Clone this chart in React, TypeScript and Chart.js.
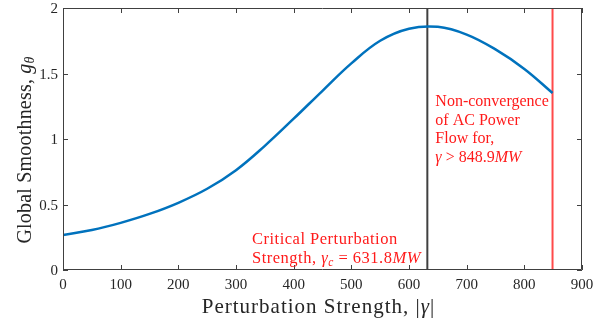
import React, { useEffect, useRef } from "react";
import { Chart, registerables } from "chart.js";

Chart.register(...registerables);

const xValues = [0, 50, 100, 150, 200, 250, 300, 350, 400, 450, 500, 550, 600, 650, 700, 750, 800, 848.9];
const yValues = [0.267, 0.305, 0.36, 0.428, 0.513, 0.62, 0.762, 0.948, 1.155, 1.368, 1.577, 1.75, 1.842, 1.856, 1.797, 1.684, 1.535, 1.351];
const criticalX = 631.8;
const divergeX = 848.9;
const xTicks = [0, 100, 200, 300, 400, 500, 600, 700, 800, 900];
const yTicks = [0, 0.5, 1, 1.5, 2];
const yTickLabels = ["0", "0.5", "1", "1.5", "2"];

const SERIF = "'Liberation Serif', 'DejaVu Serif', serif";

type Part = { t: string; font: string; dy?: number };

function drawParts(
  ctx: CanvasRenderingContext2D,
  parts: Part[],
  x: number,
  y: number,
  align: "left" | "center" | "right",
  color: string,
  spacing = 0
) {
  ctx.save();
  ctx.fillStyle = color;
  ctx.textBaseline = "alphabetic";
  ctx.textAlign = "left";
  (ctx as any).letterSpacing = spacing + "px";
  let total = 0;
  for (const p of parts) {
    ctx.font = p.font;
    total += ctx.measureText(p.t).width;
  }
  let cx = align === "left" ? x : align === "center" ? x - total / 2 : x - total;
  for (const p of parts) {
    ctx.font = p.font;
    ctx.fillText(p.t, cx, y + (p.dy || 0));
    cx += ctx.measureText(p.t).width;
  }
  ctx.restore();
}

const decorPlugin = {
  id: "decor",
  afterDraw(chart: any) {
    const ctx: CanvasRenderingContext2D = chart.ctx;
    const xs = chart.scales.x;
    const ys = chart.scales.y;
    const { left, right, top, bottom } = chart.chartArea;
    ctx.save();
    ctx.strokeStyle = "#404040";
    ctx.lineWidth = 1;
    ctx.beginPath();
    ctx.rect(left + 0.5, top + 0.5, right - left - 1, bottom - top - 1);
    ctx.stroke();
    const tl = 5;
    ctx.beginPath();
    for (const v of xTicks) {
      const px = Math.round(xs.getPixelForValue(v)) + 0.5;
      ctx.moveTo(px, bottom);
      ctx.lineTo(px, bottom - tl);
      ctx.moveTo(px, top);
      ctx.lineTo(px, top + tl);
    }
    for (const v of yTicks) {
      const py = Math.round(ys.getPixelForValue(v)) + 0.5;
      ctx.moveTo(left, py);
      ctx.lineTo(left + tl, py);
      ctx.moveTo(right, py);
      ctx.lineTo(right - tl, py);
    }
    ctx.stroke();
    ctx.restore();

    const tickFont = `15px ${SERIF}`;
    for (const v of xTicks) {
      drawParts(ctx, [{ t: String(v), font: tickFont }], xs.getPixelForValue(v), bottom + 19, "center", "#262626");
    }
    yTicks.forEach((v, i) => {
      drawParts(ctx, [{ t: yTickLabels[i], font: tickFont }], left - 5, ys.getPixelForValue(v) + 5, "right", "#262626");
    });

    // x title
    drawParts(
      ctx,
      [
        { t: "Perturbation Strength, |", font: `21px ${SERIF}` },
        { t: "γ", font: `italic 21px ${SERIF}` },
        { t: "|", font: `21px ${SERIF}` },
      ],
      318.5,
      bottom + 43,
      "center",
      "#262626",
      1
    );

    // y title
    ctx.save();
    ctx.translate(31, 150);
    ctx.rotate(-Math.PI / 2);
    drawParts(
      ctx,
      [
        { t: "Global Smoothness, ", font: `20px ${SERIF}` },
        { t: "g", font: `italic 20px ${SERIF}` },
        { t: "θ", font: `italic 14px ${SERIF}`, dy: 3 },
      ],
      0,
      0,
      "center",
      "#262626",
      0.2
    );
    ctx.restore();

    // annotations
    const red = "#ff1a1a";
    const af = `16px ${SERIF}`;
    const ai = `italic 16px ${SERIF}`;
    const ax = xs.getPixelForValue(criticalX) + 8;
    drawParts(ctx, [{ t: "Non-convergence", font: af }], ax, 106, "left", red);
    drawParts(ctx, [{ t: "of AC Power", font: af }], ax, 124.7, "left", red);
    drawParts(ctx, [{ t: "Flow for,", font: af }], ax, 143.4, "left", red);
    drawParts(
      ctx,
      [
        { t: "γ", font: ai },
        { t: " > 848.9", font: af },
        { t: "MW", font: ai },
      ],
      ax,
      162,
      "left",
      red
    );
    const bf = `16.5px ${SERIF}`;
    const bi = `italic 16.5px ${SERIF}`;
    drawParts(ctx, [{ t: "Critical Perturbation", font: bf }], 252, 244, "left", red, 0.5);
    drawParts(
      ctx,
      [
        { t: "Strength, ", font: bf },
        { t: "γ", font: bi },
        { t: "c", font: `italic 11.5px ${SERIF}`, dy: 3 },
        { t: " = 631.8", font: bf },
        { t: "MW", font: bi },
      ],
      252,
      263,
      "left",
      red,
      0.5
    );
  },
};

export default function App() {
  const ref = useRef<HTMLCanvasElement>(null);
  useEffect(() => {
    if (!ref.current) return;
    const chart = new Chart(ref.current, {
      type: "line",
      data: {
        datasets: [
          {
            data: xValues.map((x, i) => ({ x, y: yValues[i] })),
            borderColor: "#0072BD",
            borderWidth: 2.5,
            pointRadius: 0,
            tension: 0.4,
            fill: false,
          },
          {
            data: [
              { x: criticalX, y: 0 },
              { x: criticalX, y: 2 },
            ],
            borderColor: "#404040",
            borderWidth: 2,
            pointRadius: 0,
          },
          {
            data: [
              { x: divergeX, y: 0 },
              { x: divergeX, y: 2 },
            ],
            borderColor: "#ff4a4a",
            borderWidth: 2,
            pointRadius: 0,
          },
        ],
      },
      options: {
        animation: false,
        responsive: false,
        maintainAspectRatio: false,
        layout: { padding: { left: 63, top: 8, right: 28, bottom: 53 } },
        plugins: { legend: { display: false }, tooltip: { enabled: false } },
        scales: {
          x: { type: "linear", min: 0, max: 900, display: false },
          y: { type: "linear", min: 0, max: 2, display: false },
        },
      },
      plugins: [decorPlugin],
    });
    return () => chart.destroy();
  }, []);
  return (
    <div style={{ position: "fixed", left: 0, top: 0, width: 610, height: 323, background: "#fff" }}>
      <canvas ref={ref} width={610} height={323} style={{ display: "block", width: 610, height: 323 }} />
    </div>
  );
}
